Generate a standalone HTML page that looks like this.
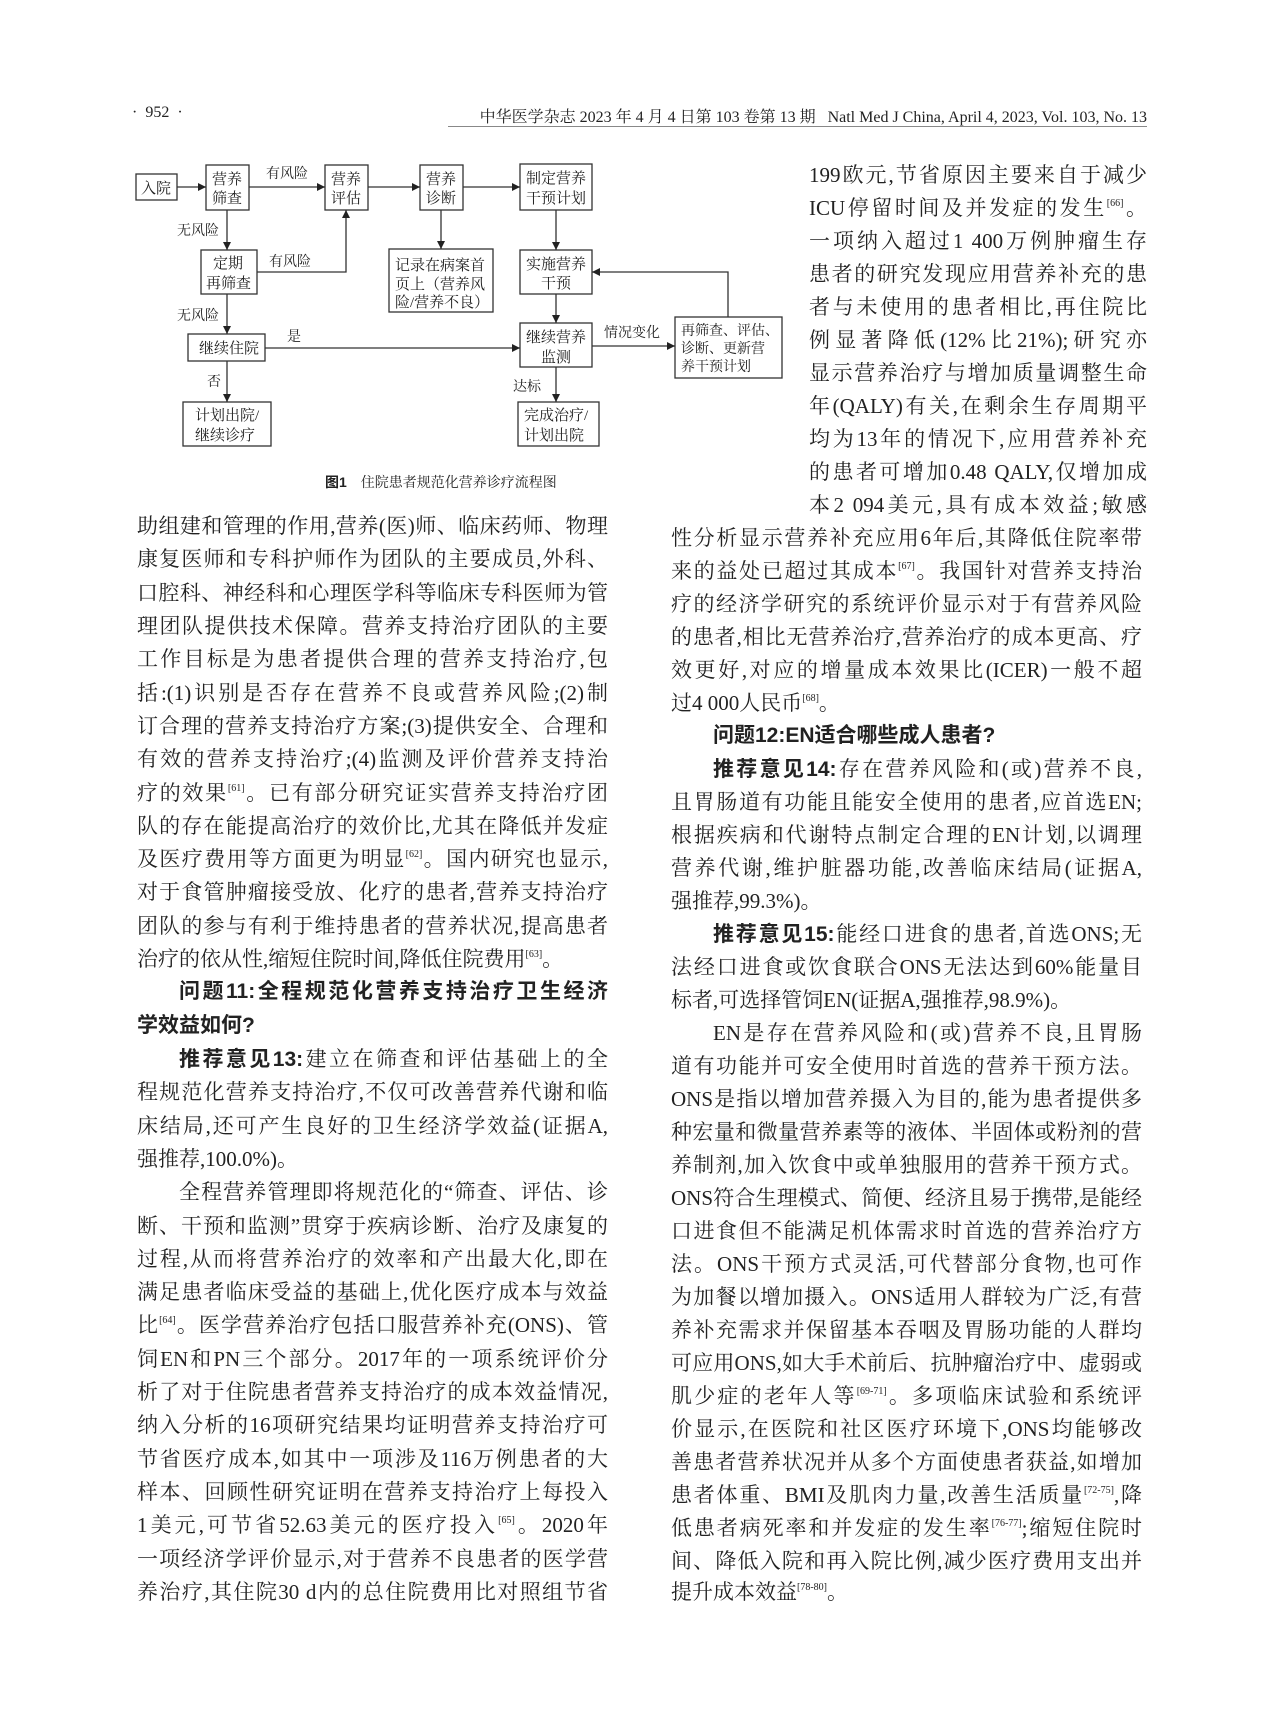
<!DOCTYPE html>
<html><head><meta charset="utf-8">
<style>
html,body{margin:0;padding:0;background:#fff;}
body{width:1279px;height:1724px;position:relative;overflow:hidden;color:#222;font-family:"Liberation Serif","Noto Serif CJK SC",serif;}
.l{position:absolute;height:26px;line-height:26px;font-size:21px;text-align:justify;text-align-last:justify;overflow:hidden;white-space:normal;}
.L{left:137px;width:471px;}
.R{left:671px;width:471px;}
.N{left:809px;width:338px;}
.e{text-align-last:left;}
.s{font-size:10px;vertical-align:9px;line-height:0;}
.h{font-family:"Liberation Sans","Noto Sans CJK SC",sans-serif;font-weight:bold;}
.b{font-weight:bold;font-family:"Liberation Sans","Noto Sans CJK SC",sans-serif;}
.hd{position:absolute;top:104px;font-size:16px;white-space:nowrap;}
svg text{font-family:"Liberation Serif","Noto Serif CJK SC",serif;font-size:15px;fill:#222;}
</style></head><body>
<div class="hd" style="left:132px;">·&nbsp;&nbsp;952&nbsp;&nbsp;·</div>
<div class="hd" style="left:440px;width:707px;text-align:right;">中华医学杂志 2023 年 4 月 4 日第 103 卷第 13 期&nbsp;&nbsp;&nbsp;Natl Med J China, April 4, 2023, Vol. 103, No. 13</div>
<div style="position:absolute;left:448px;top:126px;width:699px;height:1px;background:#888;"></div>

<svg width="800" height="500" style="position:absolute;left:0;top:0" xmlns="http://www.w3.org/2000/svg">
<defs><marker id="a" markerWidth="8" markerHeight="8" refX="8" refY="4" orient="auto" markerUnits="userSpaceOnUse"><path d="M0,0 L8,4 L0,8 z" fill="#222"/></marker></defs>
<g fill="none" stroke="#333" stroke-width="1.3">
<rect x="136" y="174" width="41" height="26"/>
<rect x="206" y="165" width="43" height="45"/>
<rect x="325" y="165" width="43" height="45"/>
<rect x="420" y="165" width="43" height="45"/>
<rect x="520" y="164" width="72" height="46"/>
<rect x="201" y="250" width="56" height="44"/>
<rect x="389" y="249" width="104" height="63"/>
<rect x="520" y="250" width="72" height="44"/>
<rect x="188" y="334" width="77" height="27"/>
<rect x="520" y="323" width="72" height="44"/>
<rect x="183" y="402" width="88" height="44"/>
<rect x="518" y="402" width="81" height="44"/>
<rect x="675" y="317" width="107" height="61"/>
<g marker-end="url(#a)">
<line x1="177" y1="187" x2="206" y2="187"/>
<line x1="249" y1="187" x2="325" y2="187"/>
<line x1="368" y1="187" x2="420" y2="187"/>
<line x1="463" y1="187" x2="520" y2="187"/>
<line x1="227" y1="210" x2="227" y2="250"/>
<polyline points="257,272 346,272 346,210"/>
<line x1="441" y1="210" x2="441" y2="249"/>
<line x1="556" y1="210" x2="556" y2="250"/>
<line x1="227" y1="294" x2="227" y2="334"/>
<line x1="556" y1="294" x2="556" y2="323"/>
<line x1="265" y1="348" x2="520" y2="348"/>
<line x1="227" y1="361" x2="227" y2="402"/>
<line x1="556" y1="367" x2="556" y2="402"/>
<line x1="592" y1="346" x2="675" y2="346"/>
<polyline points="728,317 728,272 592,272"/>
</g></g>
<text x="141" y="193">入院</text>
<text x="212" y="184">营养</text><text x="212" y="203">筛查</text>
<text x="331" y="184">营养</text><text x="331" y="203">评估</text>
<text x="426" y="184">营养</text><text x="426" y="203">诊断</text>
<text x="526" y="183">制定营养</text><text x="526" y="203">干预计划</text>
<text x="213" y="268">定期</text><text x="206" y="288">再筛查</text>
<text x="395" y="270">记录在病案首</text><text x="395" y="289">页上（营养风</text><text x="395" y="307">险/营养不良）</text>
<text x="526" y="269">实施营养</text><text x="541" y="288">干预</text>
<text x="199" y="353">继续住院</text>
<text x="526" y="342">继续营养</text><text x="541" y="362">监测</text>
<text x="195" y="420">计划出院/</text><text x="195" y="440">继续诊疗</text>
<text x="524" y="420">完成治疗/</text><text x="524" y="440">计划出院</text>
<text x="681" y="335" style="font-size:14px">再筛查、评估、</text>
<text x="681" y="353" style="font-size:14px">诊断、更新营</text>
<text x="681" y="371" style="font-size:14px">养干预计划</text>
<text x="266" y="178" style="font-size:14px">有风险</text>
<text x="177" y="235" style="font-size:14px">无风险</text>
<text x="269" y="266" style="font-size:14px">有风险</text>
<text x="177" y="320" style="font-size:14px">无风险</text>
<text x="287" y="341" style="font-size:14px">是</text>
<text x="207" y="386" style="font-size:14px">否</text>
<text x="513" y="391" style="font-size:14px">达标</text>
<text x="604" y="337" style="font-size:14px">情况变化</text>
<text x="325" y="487" style="font-size:14px"><tspan style="font-weight:bold;font-family:'Liberation Sans','Noto Sans CJK SC',sans-serif">图1</tspan>　住院患者规范化营养诊疗流程图</text>
</svg>

<div class="l N" style="top:162px">199欧元,节省原因主要来自于减少</div>
<div class="l N" style="top:195px">ICU停留时间及并发症的发生<span class="s">[66]</span>。</div>
<div class="l N" style="top:228px">一项纳入超过1 400万例肿瘤生存</div>
<div class="l N" style="top:261px">患者的研究发现应用营养补充的患</div>
<div class="l N" style="top:294px">者与未使用的患者相比,再住院比</div>
<div class="l N" style="top:327px">例显著降低(12%比21%);研究亦</div>
<div class="l N" style="top:360px">显示营养治疗与增加质量调整生命</div>
<div class="l N" style="top:393px">年(QALY)有关,在剩余生存周期平</div>
<div class="l N" style="top:426px">均为13年的情况下,应用营养补充</div>
<div class="l N" style="top:459px">的患者可增加0.48 QALY,仅增加成</div>
<div class="l N" style="top:492px">本2 094美元,具有成本效益;敏感</div>

<div class="l L" style="top:513px">助组建和管理的作用,营养(医)师、临床药师、物理</div>
<div class="l L" style="top:546px">康复医师和专科护师作为团队的主要成员,外科、</div>
<div class="l L" style="top:580px">口腔科、神经科和心理医学科等临床专科医师为管</div>
<div class="l L" style="top:613px">理团队提供技术保障。营养支持治疗团队的主要</div>
<div class="l L" style="top:646px">工作目标是为患者提供合理的营养支持治疗,包</div>
<div class="l L" style="top:680px">括:(1)识别是否存在营养不良或营养风险;(2)制</div>
<div class="l L" style="top:713px">订合理的营养支持治疗方案;(3)提供安全、合理和</div>
<div class="l L" style="top:746px">有效的营养支持治疗;(4)监测及评价营养支持治</div>
<div class="l L" style="top:780px">疗的效果<span class="s">[61]</span>。已有部分研究证实营养支持治疗团</div>
<div class="l L" style="top:813px">队的存在能提高治疗的效价比,尤其在降低并发症</div>
<div class="l L" style="top:846px">及医疗费用等方面更为明显<span class="s">[62]</span>。国内研究也显示,</div>
<div class="l L" style="top:879px">对于食管肿瘤接受放、化疗的患者,营养支持治疗</div>
<div class="l L" style="top:913px">团队的参与有利于维持患者的营养状况,提高患者</div>
<div class="l L e" style="top:946px">治疗的依从性,缩短住院时间,降低住院费用<span class="s">[63]</span>。</div>
<div class="l L h" style="top:979px;padding-left:42px;width:429px">问题11:全程规范化营养支持治疗卫生经济</div>
<div class="l L h e" style="top:1013px">学效益如何?</div>
<div class="l L" style="top:1046px;padding-left:42px;width:429px"><span class="b">推荐意见13:</span>建立在筛查和评估基础上的全</div>
<div class="l L" style="top:1079px">程规范化营养支持治疗,不仅可改善营养代谢和临</div>
<div class="l L" style="top:1113px">床结局,还可产生良好的卫生经济学效益(证据A,</div>
<div class="l L e" style="top:1146px">强推荐,100.0%)。</div>
<div class="l L" style="top:1179px;padding-left:42px;width:429px">全程营养管理即将规范化的“筛查、评估、诊</div>
<div class="l L" style="top:1213px">断、干预和监测”贯穿于疾病诊断、治疗及康复的全</div>
<div class="l L" style="top:1246px">过程,从而将营养治疗的效率和产出最大化,即在</div>
<div class="l L" style="top:1279px">满足患者临床受益的基础上,优化医疗成本与效益</div>
<div class="l L" style="top:1312px">比<span class="s">[64]</span>。医学营养治疗包括口服营养补充(ONS)、管</div>
<div class="l L" style="top:1346px">饲EN和PN三个部分。2017年的一项系统评价分</div>
<div class="l L" style="top:1379px">析了对于住院患者营养支持治疗的成本效益情况,</div>
<div class="l L" style="top:1412px">纳入分析的16项研究结果均证明营养支持治疗可</div>
<div class="l L" style="top:1446px">节省医疗成本,如其中一项涉及116万例患者的大</div>
<div class="l L" style="top:1479px">样本、回顾性研究证明在营养支持治疗上每投入</div>
<div class="l L" style="top:1512px">1美元,可节省52.63美元的医疗投入<span class="s">[65]</span>。2020年</div>
<div class="l L" style="top:1546px">一项经济学评价显示,对于营养不良患者的医学营</div>
<div class="l L" style="top:1579px">养治疗,其住院30 d内的总住院费用比对照组节省</div>

<div class="l R" style="top:525px">性分析显示营养补充应用6年后,其降低住院率带</div>
<div class="l R" style="top:558px">来的益处已超过其成本<span class="s">[67]</span>。我国针对营养支持治</div>
<div class="l R" style="top:591px">疗的经济学研究的系统评价显示对于有营养风险</div>
<div class="l R" style="top:624px">的患者,相比无营养治疗,营养治疗的成本更高、疗</div>
<div class="l R" style="top:657px">效更好,对应的增量成本效果比(ICER)一般不超</div>
<div class="l R e" style="top:690px">过4 000人民币<span class="s">[68]</span>。</div>
<div class="l R h e" style="top:723px;padding-left:42px;width:429px">问题12:EN适合哪些成人患者?</div>
<div class="l R" style="top:756px;padding-left:42px;width:429px"><span class="b">推荐意见14:</span>存在营养风险和(或)营养不良,</div>
<div class="l R" style="top:789px">且胃肠道有功能且能安全使用的患者,应首选EN;</div>
<div class="l R" style="top:822px">根据疾病和代谢特点制定合理的EN计划,以调理</div>
<div class="l R" style="top:855px">营养代谢,维护脏器功能,改善临床结局(证据A,</div>
<div class="l R e" style="top:888px">强推荐,99.3%)。</div>
<div class="l R" style="top:921px;padding-left:42px;width:429px"><span class="b">推荐意见15:</span>能经口进食的患者,首选ONS;无</div>
<div class="l R" style="top:954px">法经口进食或饮食联合ONS无法达到60%能量目</div>
<div class="l R e" style="top:987px">标者,可选择管饲EN(证据A,强推荐,98.9%)。</div>
<div class="l R" style="top:1020px;padding-left:42px;width:429px">EN是存在营养风险和(或)营养不良,且胃肠</div>
<div class="l R" style="top:1053px">道有功能并可安全使用时首选的营养干预方法。</div>
<div class="l R" style="top:1086px">ONS是指以增加营养摄入为目的,能为患者提供多</div>
<div class="l R" style="top:1119px">种宏量和微量营养素等的液体、半固体或粉剂的营</div>
<div class="l R" style="top:1152px">养制剂,加入饮食中或单独服用的营养干预方式。</div>
<div class="l R" style="top:1185px">ONS符合生理模式、简便、经济且易于携带,是能经</div>
<div class="l R" style="top:1218px">口进食但不能满足机体需求时首选的营养治疗方</div>
<div class="l R" style="top:1251px">法。ONS干预方式灵活,可代替部分食物,也可作</div>
<div class="l R" style="top:1284px">为加餐以增加摄入。ONS适用人群较为广泛,有营</div>
<div class="l R" style="top:1317px">养补充需求并保留基本吞咽及胃肠功能的人群均</div>
<div class="l R" style="top:1350px">可应用ONS,如大手术前后、抗肿瘤治疗中、虚弱或</div>
<div class="l R" style="top:1383px">肌少症的老年人等<span class="s">[69-71]</span>。多项临床试验和系统评</div>
<div class="l R" style="top:1416px">价显示,在医院和社区医疗环境下,ONS均能够改</div>
<div class="l R" style="top:1449px">善患者营养状况并从多个方面使患者获益,如增加</div>
<div class="l R" style="top:1482px">患者体重、BMI及肌肉力量,改善生活质量<span class="s">[72-75]</span>,降</div>
<div class="l R" style="top:1515px">低患者病死率和并发症的发生率<span class="s">[76-77]</span>;缩短住院时</div>
<div class="l R" style="top:1548px">间、降低入院和再入院比例,减少医疗费用支出并</div>
<div class="l R e" style="top:1579px">提升成本效益<span class="s">[78-80]</span>。</div>
</body></html>
